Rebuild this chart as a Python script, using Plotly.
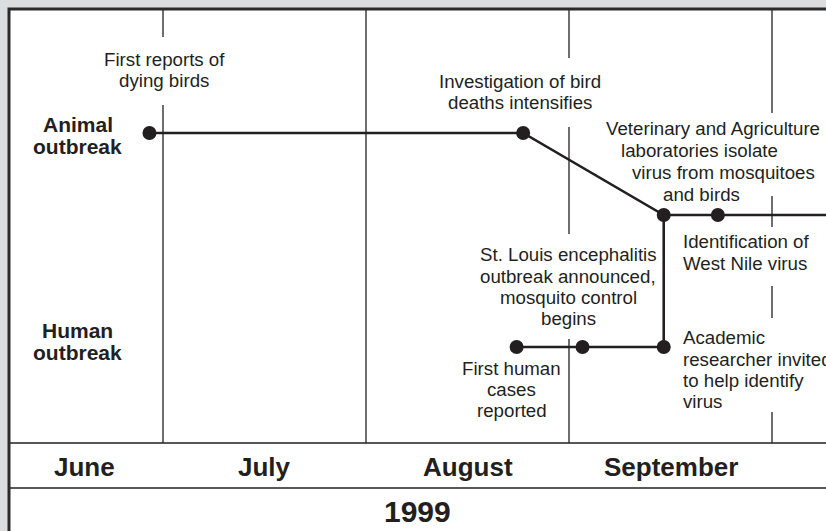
import calendar
from datetime import date
import plotly.graph_objects as go

# ---------------- data ----------------
months = ["June", "July", "August", "September"]
year_label = "1999"
row_labels = ["Animal<br>outbreak", "Human<br>outbreak"]

animal_events = [
    "First reports of dying birds",
    "Investigation of bird deaths intensifies",
    "Veterinary and Agriculture laboratories isolate virus from mosquitoes and birds",
    "Identification of West Nile virus",
]
animal_dates = ["1999-06-29", "1999-08-25", "1999-09-15", "1999-09-23"]
animal_lane = ["animal", "animal", "joined", "joined"]
animal_ongoing_date = "1999-10-20"   # line continues past the edge

human_events = [
    "First human cases reported",
    "St. Louis encephalitis outbreak announced, mosquito control begins",
    "Academic researcher invited to help identify virus",
]
human_dates = ["1999-08-24", "1999-09-03", "1999-09-15"]
human_lane = ["human", "human", "human"]

# ---------------- helpers / layout ----------------
W, H = 826, 531
L, T = 9, 9
JUL_PX, MONTH_PX = 163, 203
INK = "#231f20"
FONT = "Liberation Sans, Arial, Helvetica, sans-serif"
LANE_Y = {"animal": 133, "joined": 215, "human": 347}


def month_pos(s):
    d = date.fromisoformat(s)
    ndays = calendar.monthrange(d.year, d.month)[1]
    return (d.month - 6) + (d.day - 1) / ndays


def xp(p):  # pixel -> month position (for label placement)
    return 1 + (p - JUL_PX) / MONTH_PX


ax = [month_pos(s) for s in animal_dates] + [month_pos(animal_ongoing_date)]
ay = [LANE_Y[l] for l in animal_lane] + [LANE_Y[animal_lane[-1]]]
hx = [month_pos(s) for s in human_dates]
hy = [LANE_Y[l] for l in human_lane]

fig = go.Figure()
line_style = dict(color=INK, width=2.6)
# animal line
fig.add_trace(go.Scatter(x=ax, y=ay, mode="lines", line=line_style, hoverinfo="skip"))
# human line
fig.add_trace(go.Scatter(x=hx, y=hy, mode="lines", line=line_style, hoverinfo="skip"))
# connector between the two outbreaks
fig.add_trace(go.Scatter(x=[hx[-1], hx[-1]], y=[hy[-1], LANE_Y["joined"]],
                         mode="lines", line=line_style, hoverinfo="skip"))
# dots
fig.add_trace(go.Scatter(x=ax[:-1], y=ay[:-1], mode="markers", text=animal_events,
                         marker=dict(size=14, color=INK), hoverinfo="text"))
fig.add_trace(go.Scatter(x=hx, y=hy, mode="markers", text=human_events,
                         marker=dict(size=14, color=INK), hoverinfo="text"))

shapes = []
grid = dict(color=INK, width=1.3)
# month boundary lines, with gaps where labels sit
segments = {
    1: [(T, 37), (105, 443)],
    2: [(T, 443)],
    3: [(T, 58), (127, 234), (339, 443)],
    4: [(T, 113), (196, 227), (286, 318), (412, 443)],
}
for m, segs in segments.items():
    for y0, y1 in segs:
        shapes.append(dict(type="line", xref="x", yref="y", x0=m, x1=m, y0=y0, y1=y1,
                           line=grid, layer="below"))
for yy in (443, 488):
    shapes.append(dict(type="line", xref="paper", yref="y", x0=0, x1=1, y0=yy, y1=yy,
                       line=dict(color=INK, width=1.5), layer="below"))
# panel border (left + top)
shapes.append(dict(type="path", xref="paper", yref="paper",
                   path="M 0,-0.1 L 0,1 L 1.1,1", line=dict(color="#2b2b2b", width=3)))

annotations = []


def add_text(lines, xs, ys, size=18.7, bold=False, anchor="center"):
    for t, x, y in zip(lines, xs, ys):
        annotations.append(dict(
            x=xp(x), y=y, xref="x", yref="y", showarrow=False,
            text=f"<b>{t}</b>" if bold else t, xanchor=anchor, yanchor="middle",
            borderpad=0, font=dict(family=FONT, size=size, color=INK)))


# row labels
for lab, y0 in zip(row_labels, (124.5, 330.5)):
    parts = lab.split("<br>")
    add_text(parts, [77.5] * len(parts), [y0, y0 + 22], size=21, bold=True)

# event labels
add_text(["First reports of", "dying birds"], [164, 164], [59.5, 80.5])
add_text(["Investigation of bird", "deaths intensifies"], [520, 520], [81.5, 102.5])
add_text(["Veterinary and Agriculture", "laboratories isolate", "virus from mosquitoes", "and birds"],
         [712.5, 699.5, 723.5, 701], [128.8, 150.3, 172.5, 194.3])
add_text(["Identification of", "West Nile virus"], [681.5, 681.5], [241.5, 263.5], anchor="left")
add_text(["St. Louis encephalitis", "outbreak announced,", "mosquito control", "begins"],
         [568] * 4, [254.3, 276, 297.3, 318.3])
add_text(["First human", "cases", "reported"], [511.5] * 3, [368.3, 389.3, 410.6])
add_text(["Academic", "researcher invited", "to help identify", "virus"],
         [681.5] * 4, [337.3, 359, 380, 401.6], anchor="left")

# month labels
month_x = [84, 264.5, 467.5, 670.5]
add_text(months, month_x, [466.5] * 4, size=26, bold=True)
# year
add_text([year_label], [417.5], [511], size=30, bold=True)

fig.update_layout(
    width=W, height=H,
    margin=dict(l=L, r=0, t=T, b=0, pad=0),
    paper_bgcolor="#dcdddf", plot_bgcolor="white",
    showlegend=False,
    xaxis=dict(range=[xp(L), xp(W)], visible=False, fixedrange=True),
    yaxis=dict(range=[H, T], visible=False, fixedrange=True),
    shapes=shapes, annotations=annotations,
    font=dict(family=FONT, color=INK),
)

fig.write_html("out.html", config={"displayModeBar": False},
               post_script="document.body.style.margin='0';document.body.style.overflow='hidden';")
